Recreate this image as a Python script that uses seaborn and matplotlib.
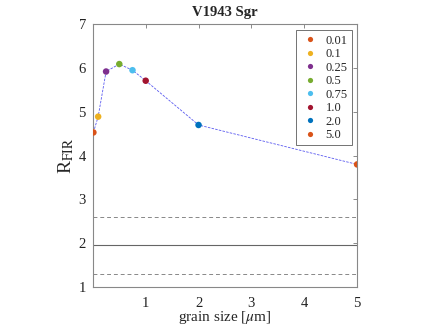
import pandas as pd
import seaborn as sns
import matplotlib
matplotlib.use("Agg")
import matplotlib.pyplot as plt

grain_size = [0.01, 0.1, 0.25, 0.5, 0.75, 1.0, 2.0, 5.0]
grain_labels = ["0.01", "0.1", "0.25", "0.5", "0.75", "1.0", "2.0", "5.0"]
r_fir = [4.53, 4.89, 5.92, 6.09, 5.95, 5.71, 4.70, 3.80]
point_colors = ["#D95319", "#EDB120", "#7E2F8E", "#77AC30",
                "#4DBEEE", "#A2142F", "#0072BD", "#D95319"]

ref_solid = 1.97
ref_dashed = [2.61, 1.29]

x_ticks = [1, 2, 3, 4, 5]
y_ticks = [1, 2, 3, 4, 5, 6, 7]

sns.set_style("white")
plt.rcParams['font.family'] = ['Liberation Serif', 'DejaVu Serif']
plt.rcParams['mathtext.fontset'] = 'stix'

df = pd.DataFrame({"size": grain_size, "rfir": r_fir, "label": grain_labels})

fig = plt.figure(figsize=(4.36, 3.27), dpi=100)
ax = fig.add_axes([0.213, 0.122, 0.606, 0.804])

ax.axhline(ref_solid, color="#666666", lw=0.8, zorder=1)
for v in ref_dashed:
  ax.axhline(v, color="#888888", lw=0.7, ls=(0, (4, 3)), zorder=1)

sns.lineplot(data=df, x="size", y="rfir", ax=ax, color="#5a5af0",
             lw=0.6, ls=(0, (3, 1.5)), sort=False, zorder=2)
sns.scatterplot(data=df, x="size", y="rfir", hue="label", palette=point_colors,
                hue_order=grain_labels, s=22, edgecolor="none", ax=ax, zorder=3)

ax.set_xlim(0, 5)
ax.set_ylim(1, 7)
ax.set_xticks(x_ticks)
ax.set_yticks(y_ticks)
ax.tick_params(direction="in", length=3, width=0.6, color="#777777",
               labelsize=10.5, labelcolor="#222222", top=True, right=True)
ax.tick_params(axis="x", pad=7)
ax.tick_params(axis="y", pad=5)
for sp in ax.spines.values():
  sp.set_color("#888888")
  sp.set_linewidth(0.8)

ax.set_xlabel(r"grain size [$\mu$m]", fontsize=11)
ax.xaxis.set_label_coords(0.5, -0.083)
ax.set_ylabel(r"R$_{\mathrm{FIR}}$", fontsize=14, labelpad=2)
ax.set_title("V1943 Sgr", fontsize=10.5, fontweight="bold", pad=6)

leg = ax.legend(loc="upper right", bbox_to_anchor=(0.981, 0.977), fontsize=9,
                frameon=True, fancybox=False, edgecolor="#333333",
                handletextpad=0.5, labelspacing=0.12, borderpad=0.35,
                borderaxespad=0, markerscale=0.8, handlelength=1.5)
leg.get_frame().set_linewidth(0.6)

fig.savefig("out.png", dpi=100)
